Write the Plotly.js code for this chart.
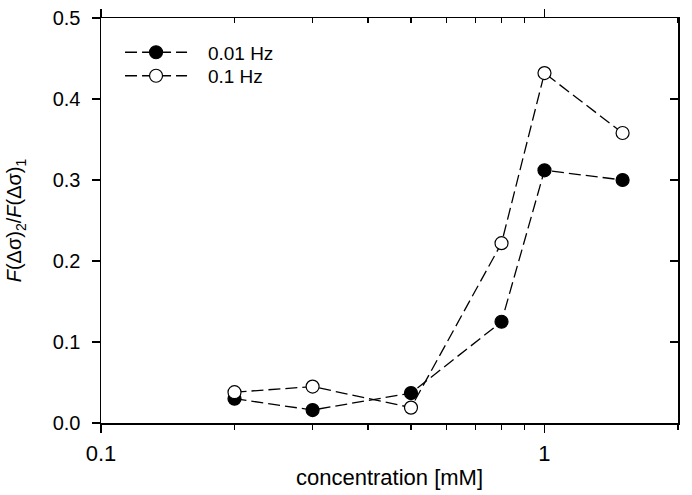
<!DOCTYPE html>
<html>
<head>
<meta charset="utf-8">
<script src="https://cdn.plot.ly/plotly-3.0.1.min.js"></script>
<style>
  html, body { margin: 0; padding: 0; background: #fff; }
  #chart { width: 692px; height: 495px; }
</style>
</head>
<body>
<div id="chart"></div>
<script>
// concentration [mM]
var conc = [0.2, 0.3, 0.5, 0.8, 1.0, 1.5];
// F(dsigma)2 / F(dsigma)1 at each frequency
var ratio001Hz = [0.030, 0.016, 0.037, 0.125, 0.312, 0.300];
var ratio01Hz = [0.038, 0.045, 0.019, 0.222, 0.432, 0.358];
var seriesNames = ['0.01 Hz', '0.1 Hz'];

var xMajor = [0.1, 1];
var xMajorText = ['0.1', '1'];
var xMinor = [0.2, 0.3, 0.4, 0.5, 0.6, 0.7, 0.8, 0.9, 2];
var yTicks = [0, 0.1, 0.2, 0.3, 0.4, 0.5];

var fontFam = 'Liberation Sans, Arial, sans-serif';
var dashStyle = '12px,5px';
// a little extra room between legend symbol and label
var legPad = '\u00a0\u00a0\u00a0';

var traces = [
    {
        x: conc,
        y: ratio001Hz,
        name: legPad + seriesNames[0],
        legend: 'legend',
        type: 'scatter',
        mode: 'lines+markers',
        line: {color: '#000', width: 1.3, dash: dashStyle},
        marker: {symbol: 'circle', size: 13, color: '#000', line: {color: '#000', width: 1.2}}
    },
    {
        x: conc,
        y: ratio01Hz,
        name: legPad + seriesNames[1],
        legend: 'legend2',
        type: 'scatter',
        mode: 'lines+markers',
        line: {color: '#000', width: 1.3, dash: dashStyle},
        marker: {symbol: 'circle', size: 13, color: '#fff', line: {color: '#000', width: 1.2}}
    }
];

var xRange = [Math.log10(0.1), Math.log10(2)];
var yRange = [0, 0.5];

function legendAt(yPos) {
    return {
        x: 0.033, y: yPos, xanchor: 'left', yanchor: 'top',
        bgcolor: 'rgba(0,0,0,0)',
        itemwidth: 62,
        font: {family: fontFam, size: 19, color: '#000'}
    };
}

var layout = {
    width: 692,
    height: 495,
    margin: {l: 101, r: 14, t: 18, b: 72},
    paper_bgcolor: '#fff',
    plot_bgcolor: '#fff',
    font: {family: fontFam, size: 20, color: '#000'},
    showlegend: true,
    legend: legendAt(0.962),
    legend2: legendAt(0.904),
    xaxis: {
        type: 'log',
        range: xRange,
        tickmode: 'array',
        tickvals: xMajor,
        ticktext: xMajorText,
        ticks: 'outside',
        ticklen: 8,
        tickwidth: 1.2,
        tickcolor: '#000',
        ticklabelstandoff: 2,
        tickfont: {family: fontFam, size: 22},
        minor: {tickmode: 'array', tickvals: xMinor, ticks: 'outside', ticklen: 5, tickwidth: 1.2, tickcolor: '#000'},
        showline: true,
        linewidth: 1.5,
        linecolor: '#000',
        showgrid: false,
        zeroline: false,
        title: {text: 'concentration [mM]', font: {family: fontFam, size: 22}, standoff: 4}
    },
    xaxis2: {
        type: 'log',
        overlaying: 'x',
        side: 'top',
        range: xRange,
        tickmode: 'array',
        tickvals: xMajor,
        ticks: 'outside',
        ticklen: 8,
        tickwidth: 1.2,
        tickcolor: '#000',
        minor: {tickmode: 'array', tickvals: xMinor, ticks: 'inside', ticklen: 5, tickwidth: 1.2, tickcolor: '#000'},
        showticklabels: false,
        showline: true,
        linewidth: 1.5,
        linecolor: '#000',
        showgrid: false,
        zeroline: false
    },
    yaxis: {
        range: yRange,
        tickmode: 'array',
        tickvals: yTicks,
        tickformat: '.1f',
        ticks: 'outside',
        ticklen: 8,
        tickwidth: 1.2,
        tickcolor: '#000',
        ticklabelstandoff: 7,
        tickfont: {family: fontFam, size: 20},
        showline: true,
        linewidth: 1.5,
        linecolor: '#000',
        showgrid: false,
        zeroline: false,
        title: {
            text: '<i>F</i>(Δσ)<sub>2</sub>/<i>F</i>(Δσ)<sub>1</sub>',
            font: {family: fontFam, size: 20},
            standoff: 25
        }
    },
    yaxis2: {
        overlaying: 'y',
        side: 'right',
        range: yRange,
        tickmode: 'array',
        tickvals: yTicks,
        ticks: 'inside',
        ticklen: 8,
        tickwidth: 1.2,
        tickcolor: '#000',
        showticklabels: false,
        showline: true,
        linewidth: 1.5,
        linecolor: '#000',
        showgrid: false,
        zeroline: false
    }
};

// empty trace so the mirror axes get drawn
traces.push({x: [], y: [], xaxis: 'x2', yaxis: 'y2', showlegend: false, hoverinfo: 'skip'});

Plotly.newPlot('chart', traces, layout, {staticPlot: true, displayModeBar: false});
</script>
</body>
</html>
